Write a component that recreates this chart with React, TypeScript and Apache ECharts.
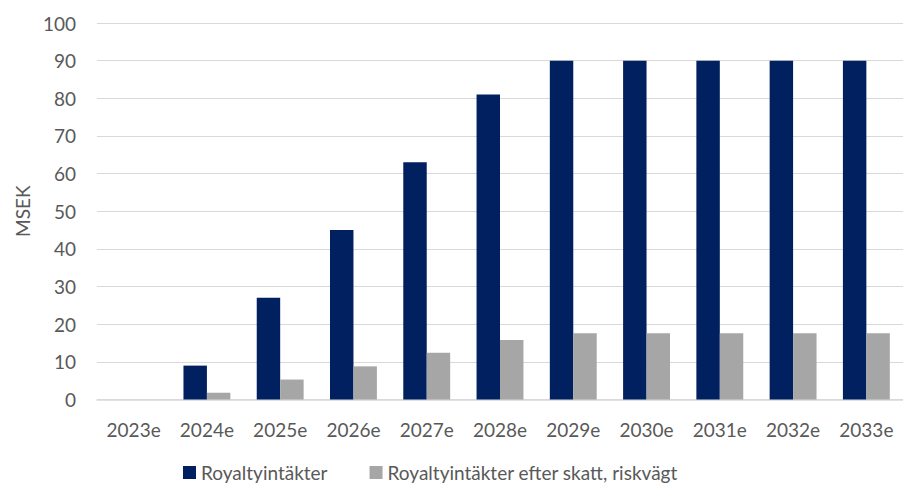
import React, { useEffect, useRef } from "react";
import * as echarts from "echarts";

const categories = ["2023e", "2024e", "2025e", "2026e", "2027e", "2028e", "2029e", "2030e", "2031e", "2032e", "2033e"];
const royalty = [0, 9, 27, 45, 63, 81, 90, 90, 90, 90, 90];
const royaltyAfterTax = [0, 1.8, 5.3, 8.8, 12.4, 15.8, 17.6, 17.6, 17.6, 17.6, 17.6];
const seriesNames = ["Royaltyintäkter", "Royaltyintäkter efter skatt, riskvägt"];

const FONT = "Lato, 'Open Sans', sans-serif";
const FS = 19;

export default function App() {
  const ref = useRef<HTMLDivElement>(null);
  useEffect(() => {
    if (!ref.current) return;
    const chart = echarts.init(ref.current, null, { renderer: "svg" });
    chart.setOption({
      animation: false,
      textStyle: { fontFamily: FONT },
      grid: { left: 97, top: 23, width: 815, height: 376.5, containLabel: false },
      legend: {
        top: 463,
        left: 183,
        padding: 0,
        itemWidth: 13,
        itemHeight: 13,
        itemGap: 42,
        icon: "rect",
        textStyle: { fontFamily: FONT, fontSize: FS, lineHeight: 16, color: "#595959" },
        data: seriesNames,
      },
      xAxis: {
        type: "category",
        data: categories,
        axisTick: { show: false },
        axisLine: { lineStyle: { color: "#D9D9D9", width: 1.5 } },
        axisLabel: { fontFamily: FONT, fontSize: FS, color: "#595959", margin: 20 },
      },
      yAxis: {
        type: "value",
        min: 0,
        max: 100,
        interval: 10,
        name: "MSEK",
        nameLocation: "middle",
        nameGap: 65,
        nameTextStyle: { fontFamily: FONT, fontSize: FS, color: "#595959" },
        axisLabel: { fontFamily: FONT, fontSize: FS, color: "#595959", margin: 21 },
        splitLine: { lineStyle: { color: "#D9D9D9", width: 1.2 } },
      },
      series: [
        {
          name: seriesNames[0],
          type: "bar",
          data: royalty,
          barGap: "0%",
          barCategoryGap: "36%",
          itemStyle: { color: "#002060" },
        },
        {
          name: seriesNames[1],
          type: "bar",
          data: royaltyAfterTax,
          itemStyle: { color: "#A6A6A6" },
        },
      ],
    });
    return () => chart.dispose();
  }, []);
  return <div ref={ref} style={{ width: 903, height: 486, position: "absolute", left: 0, top: 0 }} />;
}
